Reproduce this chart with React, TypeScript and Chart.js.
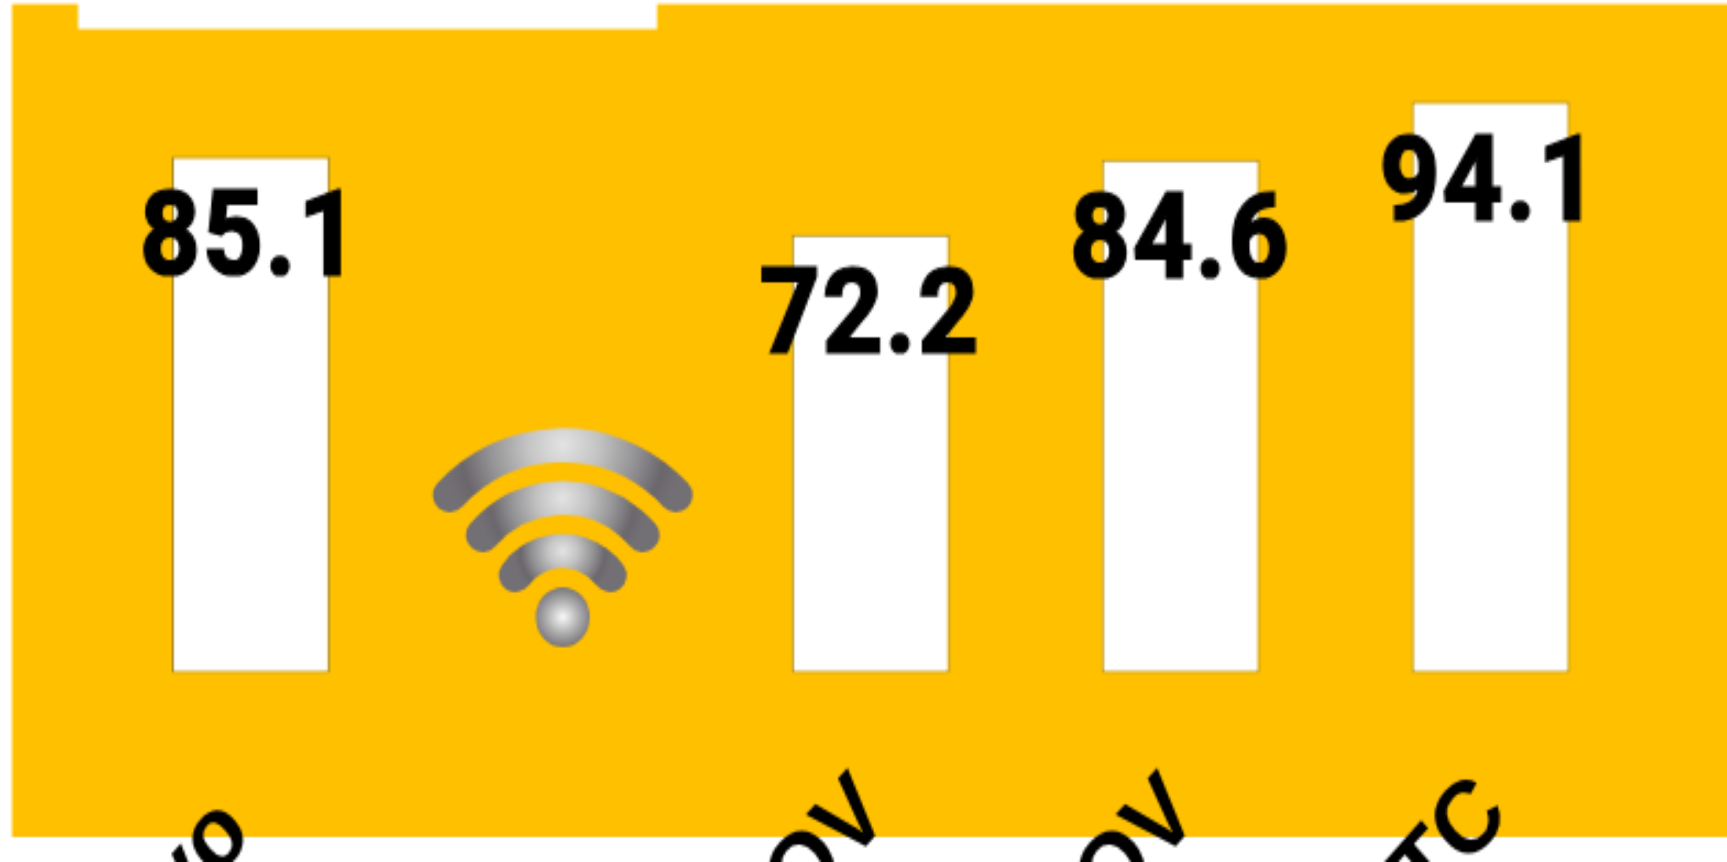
import React, { useEffect, useRef } from "react";
import { Chart, registerables } from "chart.js";

Chart.register(...registerables);

const categories = ["Mayo ", "", "NOV", "NOV", "OCTC"];
const values: (number | null)[] = [85.1, null, 72.2, 84.6, 94.1];
const valueLabels = ["85.1", "", "72.2", "84.6", "94.1"];
const iconCategoryIndex = 1;

const PAGE_W = 1727;
const PAGE_H = 862;
const CANVAS_W = 785;
const CANVAS_H = 345;
const SX = PAGE_W / CANVAS_W;
const SY = PAGE_H / CANVAS_H;
const FONT = '"Liberation Sans", Arial, sans-serif';
const VALUE_FONT = 'Roboto, "Liberation Sans", sans-serif';

const backdrop = {
  id: "backdrop",
  beforeDraw(chart: any) {
    const { ctx } = chart;
    ctx.save();
    ctx.scale(1 / SX, 1 / SY);
    ctx.fillStyle = "#ffffff";
    ctx.fillRect(0, 0, PAGE_W, PAGE_H);
    ctx.fillStyle = "#FFC000";
    ctx.fillRect(12, 4, PAGE_W - 12, 833);
    ctx.fillStyle = "#ffffff";
    ctx.fillRect(78, 0, 579, 29);
    ctx.restore();
  },
};

function arcStroke(ctx: any, halfW: number, endY: number, topY: number) {
  const rise = endY - topY;
  const r = (halfW * halfW + rise * rise) / (2 * rise);
  const cy = topY + r;
  const a = Math.asin(halfW / r);
  const g = ctx.createRadialGradient(0, topY, 0, 0, topY, halfW * 1.05);
  g.addColorStop(0, "#e4e4e4");
  g.addColorStop(0.3, "#c4c4c4");
  g.addColorStop(0.62, "#939294");
  g.addColorStop(0.86, "#6b676d");
  g.addColorStop(1, "#726f75");
  ctx.strokeStyle = g;
  ctx.lineWidth = 34;
  ctx.lineCap = "round";
  ctx.beginPath();
  ctx.arc(0, cy, r, -Math.PI / 2 - a, -Math.PI / 2 + a);
  ctx.stroke();
}

const wifiIcon = {
  id: "wifiIcon",
  afterDatasetsDraw(chart: any) {
    const { ctx } = chart;
    const cx = chart.scales.x.getPixelForValue(iconCategoryIndex) * SX;
    ctx.save();
    ctx.scale(1 / SX, 1 / SY);
    ctx.translate(cx + 2, 0);
    arcStroke(ctx, 113, 495, 445);
    arcStroke(ctx, 80, 535, 498);
    arcStroke(ctx, 47, 575, 551);
    const g = ctx.createRadialGradient(0, 617, 0, 0, 617, 30);
    g.addColorStop(0, "#fafafa");
    g.addColorStop(0.6, "#a8a7a8");
    g.addColorStop(1, "#77747a");
    ctx.fillStyle = g;
    ctx.beginPath();
    ctx.ellipse(0, 617, 27, 30, 0, 0, Math.PI * 2);
    ctx.fill();
    ctx.restore();
  },
};

const valueText = {
  id: "valueText",
  afterDatasetsDraw(chart: any) {
    const { ctx } = chart;
    const meta = chart.getDatasetMeta(0);
    ctx.save();
    ctx.font = `bold 48px ${VALUE_FONT}`;
    ctx.letterSpacing = "1px";
    ctx.fillStyle = "#000000";
    ctx.strokeStyle = "#000000";
    ctx.lineWidth = 1.2;
    ctx.lineJoin = "miter";
    ctx.textAlign = "center";
    ctx.textBaseline = "alphabetic";
    valueLabels.forEach((t, i) => {
      if (!t) return;
      const el = meta.data[i];
      ctx.fillText(t, el.x - 0.2, el.y + 47.6);
      ctx.strokeText(t, el.x - 0.2, el.y + 47.6);
    });
    ctx.restore();
  },
};

export default function App() {
  const ref = useRef<HTMLCanvasElement>(null);
  useEffect(() => {
    const chart = new Chart(ref.current as HTMLCanvasElement, {
      type: "bar",
      data: {
        labels: categories,
        datasets: [
          {
            data: values,
            backgroundColor: "#ffffff",
            borderColor: "#a88a2e",
            borderWidth: 1,
            borderSkipped: false,
            barPercentage: 0.51,
            categoryPercentage: 1,
          },
        ],
      },
      options: {
        animation: false,
        responsive: false,
        devicePixelRatio: 1,
        layout: { padding: { left: 43.5, right: 37, top: 26.2, bottom: 0 } },
        plugins: { legend: { display: false }, title: { display: false }, tooltip: { enabled: false } },
        scales: {
          y: { display: false, min: 0, max: 100 },
          x: {
            grid: { display: false },
            border: { display: false },
            afterFit(scale: any) {
              scale.height = 75.6;
              scale.paddingLeft = 0;
              scale.paddingRight = 0;
            },
            ticks: {
              autoSkip: false,
              minRotation: 45,
              maxRotation: 45,
              padding: 24,
              labelOffset: 1.5,
              color: "#000000",
              font: { family: FONT, weight: "bold", size: 41 },
            },
          },
        },
      },
      plugins: [backdrop, wifiIcon, valueText],
    } as any);
    return () => chart.destroy();
  }, []);
  return (
    <div style={{ position: "fixed", left: 0, top: 0, width: PAGE_W, height: PAGE_H, overflow: "hidden", background: "#fff" }}>
      <div style={{ transform: `scale(${SX}, ${SY})`, transformOrigin: "0 0", width: CANVAS_W, height: CANVAS_H }}>
        <canvas ref={ref} width={CANVAS_W} height={CANVAS_H} style={{ display: "block" }} />
      </div>
    </div>
  );
}
